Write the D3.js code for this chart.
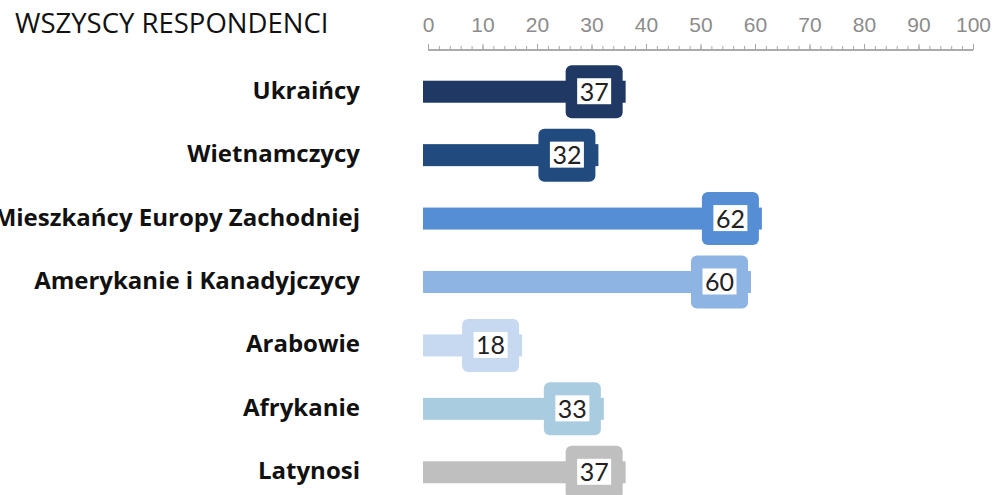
<!DOCTYPE html>
<html>
<head>
<meta charset="utf-8">
<script src="https://cdn.jsdelivr.net/npm/d3@7"></script>
<style>
  body { margin: 0; background: #fff; }
  svg { display: block; }
</style>
</head>
<body>
<div class="chart"></div>
<script>
var title = "WSZYSCY RESPONDENCI";
var categories = ["Ukraińcy", "Wietnamczycy", "Mieszkańcy Europy Zachodniej", "Amerykanie i Kanadyjczycy", "Arabowie", "Afrykanie", "Latynosi"];
var values = [37, 32, 62, 60, 18, 33, 37];
var colors = ["#1f3864", "#214b7f", "#558ed5", "#8eb4e3", "#c6d9f1", "#a9cce0", "#bfbfbf"];
var tickValues = [0, 10, 20, 30, 40, 50, 60, 70, 80, 90, 100];

var width = 996,
    height = 495;

var svg = d3.select(".chart")
    .append("svg")
    .attr("width", width)
    .attr("height", height);

var x = d3.scaleLinear()
    .domain([0, 100])
    .range([428, 973]);

var y = d3.scaleBand()
    .domain(categories)
    .range([60, 504]);

// title
svg.append("text")
    .attr("x", 15)
    .attr("y", 33)
    .attr("font-family", "'Open Sans', sans-serif")
    .attr("font-size", 27.5)
    .attr("fill", "#111")
    .text(title);

// ruler axis on top
var axisY = 50;
var minor = svg.append("g")
    .attr("transform", "translate(0," + axisY + ")")
    .call(d3.axisTop(x).tickValues(d3.range(0, 101, 2)).tickSize(4).tickFormat(""));

var major = svg.append("g")
    .attr("transform", "translate(0," + axisY + ")")
    .call(d3.axisTop(x).tickValues(tickValues).tickSize(6).tickPadding(12));

svg.selectAll(".domain").attr("stroke", "#a6a6a6").attr("stroke-width", 1.5)
    .attr("d", "M" + x(0) + ",0H" + x(100));
svg.selectAll(".tick line").attr("stroke", "#a6a6a6");
major.selectAll("text")
    .attr("font-family", "'Liberation Sans', Arial, sans-serif")
    .attr("font-size", 21)
    .attr("fill", "#8c8c8c");

// category labels
svg.append("g")
    .selectAll("text")
    .data(categories)
    .enter().append("text")
    .attr("x", 360)
    .attr("y", function(d) { return y(d) + y.bandwidth() / 2 + 7; })
    .attr("text-anchor", "end")
    .attr("font-family", "'Open Sans', sans-serif")
    .attr("font-weight", "bold")
    .attr("font-size", 24)
    .attr("fill", "#111")
    .text(function(d) { return d; });

// bars with value tags
var rows = svg.append("g")
    .selectAll("g")
    .data(categories)
    .enter().append("g")
    .attr("transform", function(d) { return "translate(0," + (y(d) + y.bandwidth() / 2) + ")"; });

var barH = 22, boxW = 57, boxH = 53;

rows.append("rect")
    .attr("x", x(0) - 5)
    .attr("y", -barH / 2)
    .attr("height", barH)
    .attr("width", function(d, i) { return x(values[i]) - 4 - (x(0) - 5); })
    .attr("fill", function(d, i) { return colors[i]; });

rows.append("rect")
    .attr("x", function(d, i) { return x(values[i]) - 7 - boxW; })
    .attr("y", -boxH / 2)
    .attr("width", boxW)
    .attr("height", boxH)
    .attr("rx", 6)
    .attr("fill", function(d, i) { return colors[i]; });

rows.append("rect")
    .attr("x", function(d, i) { return x(values[i]) - 7 - boxW / 2 - 17; })
    .attr("y", -13.5)
    .attr("width", 34)
    .attr("height", 26)
    .attr("fill", "#fff");

rows.append("text")
    .attr("x", function(d, i) { return x(values[i]) - 7 - boxW / 2; })
    .attr("y", 9)
    .attr("text-anchor", "middle")
    .attr("font-family", "Lato, sans-serif")
    .attr("font-size", 25)
    .attr("fill", "#222")
    .text(function(d, i) { return values[i]; });
</script>
</body>
</html>
